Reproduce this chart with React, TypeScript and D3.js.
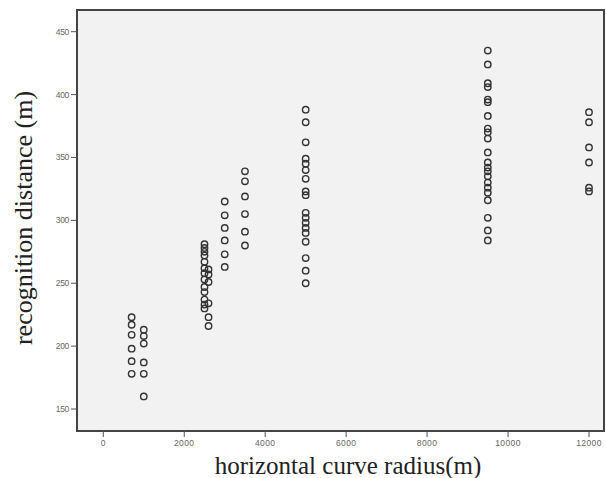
import React from "react";
import * as d3 from "d3";

const radii = [700, 1000, 2500, 2600, 3000, 3500, 5000, 9500, 12000];
const distances: number[][] = [
  [223, 217, 209, 198, 188, 178],
  [213, 208, 202, 187, 178, 160],
  [281, 278, 275, 272, 267, 262, 258, 253, 247, 243, 237, 233, 230],
  [261, 257, 251, 234, 223, 216],
  [315, 304, 294, 284, 273, 263],
  [339, 331, 319, 305, 291, 280],
  [388, 378, 362, 349, 345, 340, 333, 323, 320, 306, 302, 298, 294, 290, 283, 270, 260, 250],
  [435, 424, 409, 406, 396, 394, 383, 373, 370, 365, 354, 346, 342, 339, 335, 330, 326, 322, 316, 302, 292, 284],
  [386, 378, 358, 346, 326, 323],
];
const xTicks = [0, 2000, 4000, 6000, 8000, 10000, 12000];
const yTicks = [150, 200, 250, 300, 350, 400, 450];
const xTitle = "horizontal curve radius(m)";
const yTitle = "recognition distance (m)";

export default function App() {
  const left = 77, right = 604, top = 10, bottom = 431;
  const x = d3.scaleLinear().domain([0, 12000]).range([103.3, 589]);
  const y = d3.scaleLinear().domain([150, 450]).range([409, 31.7]);
  const points = radii.flatMap((r, i) => distances[i].map((d) => ({ r, d })));
  return (
    <svg width={606} height={478} style={{ position: "absolute", left: 0, top: 0, background: "#fff" }}>
      <rect x={left} y={top} width={right - left} height={bottom - top} fill="#f2f2f2" stroke="#444" strokeWidth={2} />
      {yTicks.map((t) => (
        <g key={"y" + t}>
          <line x1={left - 6} x2={left} y1={y(t)} y2={y(t)} stroke="#555" strokeWidth={1} />
          <text x={left - 8} y={y(t)} dy="0.35em" textAnchor="end" fontFamily="Liberation Sans, Arial, sans-serif" fontSize={8.5} fill="#666" letterSpacing={-0.3}>
            {t}
          </text>
        </g>
      ))}
      {xTicks.map((t) => (
        <g key={"x" + t}>
          <line x1={x(t)} x2={x(t)} y1={bottom} y2={bottom + 6} stroke="#555" strokeWidth={1} />
          <text x={x(t)} y={bottom + 15} textAnchor="middle" fontFamily="Liberation Sans, Arial, sans-serif" fontSize={8.5} fill="#666" letterSpacing={0.4}>
            {t}
          </text>
        </g>
      ))}
      {points.map((p, i) => (
        <circle key={i} cx={x(p.r)} cy={y(p.d)} r={3.2} fill="none" stroke="#333" strokeWidth={1.4} />
      ))}
      <text x={348} y={474} textAnchor="middle" fontFamily="Liberation Serif, Times New Roman, serif" fontSize={25} fill="#222">
        {xTitle}
      </text>
      <text transform={`translate(32,218) rotate(-90)`} textAnchor="middle" fontFamily="Liberation Serif, Times New Roman, serif" fontSize={26} fill="#222">
        {yTitle}
      </text>
    </svg>
  );
}
